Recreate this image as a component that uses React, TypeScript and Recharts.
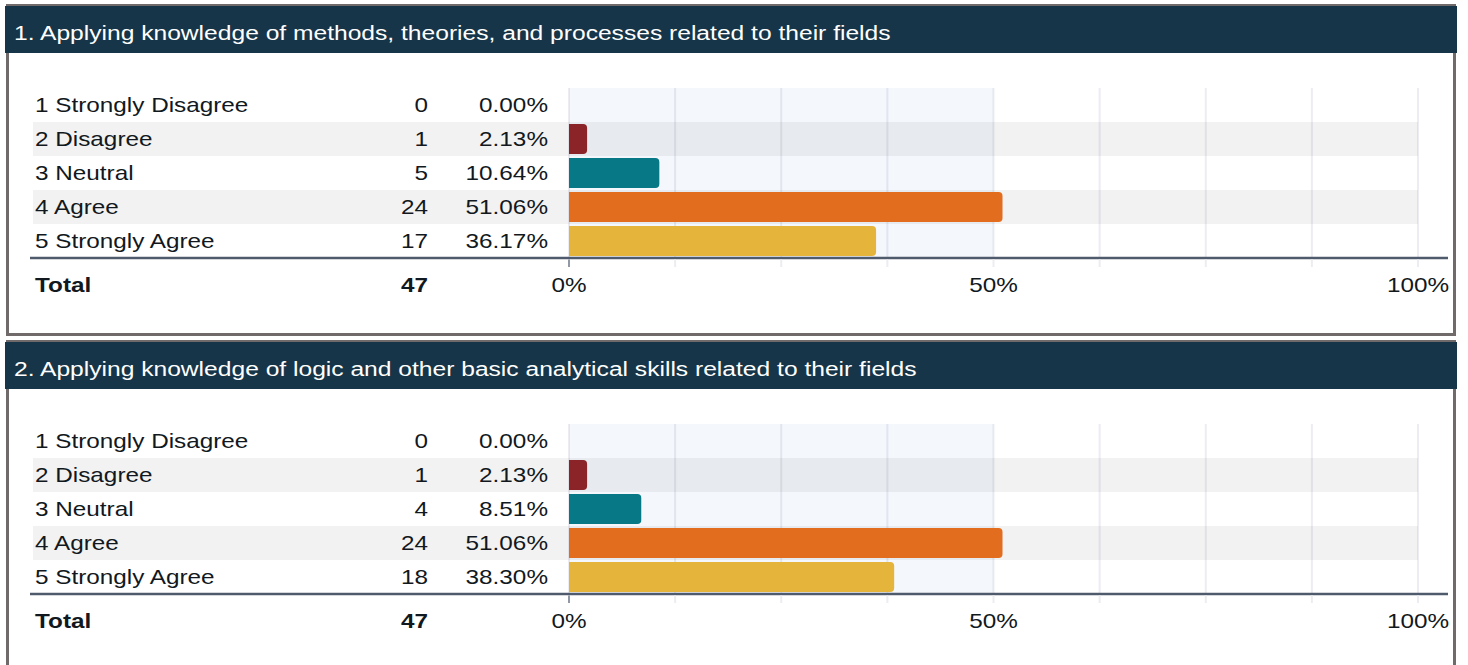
import React from 'react';
import { BarChart, Bar, XAxis, YAxis, CartesianGrid, ReferenceArea, Cell } from 'recharts';

// ---------- data ----------
const categories = ['1 Strongly Disagree', '2 Disagree', '3 Neutral', '4 Agree', '5 Strongly Agree'];

const q1Title = '1. Applying knowledge of methods, theories, and processes related to their fields';
const q1Counts = [0, 1, 5, 24, 17];
const q1Percents = [0.0, 2.13, 10.64, 51.06, 36.17];
const q1Total = 47;

const q2Title = '2. Applying knowledge of logic and other basic analytical skills related to their fields';
const q2Counts = [0, 1, 4, 24, 18];
const q2Percents = [0.0, 2.13, 8.51, 51.06, 38.3];
const q2Total = 47;

const xTicks = [0, 12.5, 25, 37.5, 50, 62.5, 75, 87.5, 100];
const labeledTicks = [0, 50, 100];
const shadedRows = ['2 Disagree', '4 Agree'];
const barColors = ['#8b2428', '#8b2428', '#077886', '#e36d1f', '#e5b53b'];

// ---------- layout / style ----------
const FONT = '"Liberation Sans", Arial, Helvetica, sans-serif';
const SX = 1.215;
const TITLE_SX = 1.23;
const FS = 20;
const TEXT = '#121820';
const CHART_W = 1468;
const PLOT_LEFT = 569;
const PLOT_RIGHT = 1418;
const PLOT_TOP = 82;
const PLOT_H = 170;
const XAXIS_H = 60;
const CHART_H = PLOT_TOP + PLOT_H + XAXIS_H;
const BAND = PLOT_H / categories.length;
const LABEL_X = 35;
const COUNT_X = 428;
const PCT_X = 548;
const BAND_X = 33;
const AXIS_X1 = 30;
const AXIS_X2 = 1448;
const PANEL_STEP = 336;

const T = ({ x, y, anchor = 'start', bold = false, fill = TEXT, children }: any) => (
  <text
    transform={`translate(${x},${y}) scale(${SX},1)`}
    textAnchor={anchor}
    fontFamily={FONT}
    fontSize={FS}
    fontWeight={bold ? 'bold' : 'normal'}
    fill={fill}
  >
    {children}
  </text>
);

const RowTick = (props: any) => {
  const { y, payload, counts, percents } = props;
  const i = categories.indexOf(payload.value);
  return (
    <g>
      {shadedRows.includes(payload.value) && (
        <rect x={BAND_X} y={y - BAND / 2} width={PLOT_LEFT - BAND_X} height={BAND} fill="#000" fillOpacity={0.05} />
      )}
      <T x={LABEL_X} y={y + 7}>{payload.value}</T>
      <T x={COUNT_X} y={y + 7} anchor="end">{counts[i]}</T>
      <T x={PCT_X} y={y + 7} anchor="end">{percents[i].toFixed(2)}%</T>
    </g>
  );
};

const AxisTick = (props: any) => {
  const { x, y, payload, total } = props;
  const v = payload.value;
  return (
    <g>
      {v === 0 && <line x1={AXIS_X1} x2={AXIS_X2} y1={y} y2={y} stroke="#4f5b6d" strokeWidth={2.5} />}
      <line
        x1={x}
        x2={x}
        y1={y + 1.5}
        y2={y + 9}
        stroke={v === 0 ? '#6d7787' : '#ececf2'}
        strokeWidth={v === 0 ? 1.5 : 2}
      />
      {labeledTicks.includes(v) && (
        <T x={x} y={y + 34} anchor="middle">{`${v}%`}</T>
      )}
      {v === 0 && (
        <>
          <T x={LABEL_X} y={y + 34} bold>Total</T>
          <T x={COUNT_X} y={y + 34} anchor="end" bold>{total}</T>
        </>
      )}
    </g>
  );
};

const Panel = ({ index, title, counts, percents, total }: any) => {
  const off = index * PANEL_STEP;
  const data = categories.map((c, i) => ({ label: c, pct: percents[i] }));
  return (
    <>
      <div
        style={{
          position: 'absolute',
          left: 6,
          top: off + 4,
          width: 1450,
          height: 332,
          border: '3px solid #716a6a',
          boxSizing: 'border-box',
          background: '#fff',
        }}
      />
      <div
        style={{
          position: 'absolute',
          left: 5,
          top: off + 6,
          width: 1452,
          height: 47,
          background: '#163548',
        }}
      >
        <span
          style={{
            position: 'absolute',
            left: 9,
            top: 16,
            fontFamily: FONT,
            fontSize: FS,
            lineHeight: '23px',
            color: '#ffffff',
            whiteSpace: 'nowrap',
            transform: `scaleX(${TITLE_SX})`,
            transformOrigin: 'left center',
          }}
        >
          {title}
        </span>
      </div>
      <div style={{ position: 'absolute', left: 0, top: off + 6 }}>
        <BarChart
          width={CHART_W}
          height={CHART_H}
          data={data}
          layout="vertical"
          margin={{ top: PLOT_TOP, right: CHART_W - PLOT_RIGHT, bottom: 0, left: 0 }}
        >
          <CartesianGrid horizontal={false} stroke="#ececf2" strokeWidth={2} />
          <ReferenceArea x1={0} x2={50} fill="rgb(35,95,175)" fillOpacity={0.05} stroke="none" />
          {shadedRows.map((r) => (
            <ReferenceArea key={r} y1={r} y2={r} fill="#000" fillOpacity={0.05} stroke="none" />
          ))}
          <XAxis
            type="number"
            domain={[0, 100]}
            ticks={xTicks}
            interval={0}
            tickSize={0}
            tickMargin={0}
            axisLine={false}
            tickLine={false}
            height={XAXIS_H}
            tick={(p: any) => <AxisTick {...p} total={total} />}
          />
          <YAxis
            type="category"
            dataKey="label"
            width={PLOT_LEFT}
            axisLine={false}
            tickLine={false}
            interval={0}
            tick={(p: any) => <RowTick {...p} counts={counts} percents={percents} />}
          />
          <Bar dataKey="pct" barSize={30} radius={[0, 4, 4, 0]} isAnimationActive={false}>
            {data.map((d, i) => (
              <Cell key={d.label} fill={barColors[i]} />
            ))}
          </Bar>
        </BarChart>
      </div>
    </>
  );
};

export default function App() {
  return (
    <div
      style={{
        position: 'absolute',
        left: 0,
        top: 0,
        width: 1468,
        height: 665,
        overflow: 'hidden',
        background: '#ffffff',
      }}
    >
      <Panel index={0} title={q1Title} counts={q1Counts} percents={q1Percents} total={q1Total} />
      <Panel index={1} title={q2Title} counts={q2Counts} percents={q2Percents} total={q2Total} />
    </div>
  );
}
